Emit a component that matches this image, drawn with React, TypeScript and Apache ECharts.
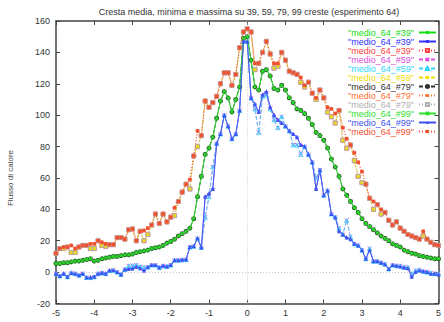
import React, { useEffect, useRef } from "react";
import * as echarts from "echarts";

const FONT = "'Liberation Sans', Arial, sans-serif";

const titleText = "Cresta media, minima e massima su 39, 59, 79, 99 creste (esperimento 64)";
const yLabelText = "Flusso di calore";

const xs = [
  -5, -4.9, -4.8, -4.7, -4.6, -4.5, -4.4, -4.3, -4.2, -4.1,
  -4, -3.9, -3.8, -3.7, -3.6, -3.5, -3.4, -3.3, -3.2, -3.1,
  -3, -2.9, -2.8, -2.7, -2.6, -2.5, -2.4, -2.3, -2.2, -2.1,
  -2, -1.9, -1.8, -1.7, -1.6, -1.5, -1.4, -1.3, -1.2, -1.1,
  -1, -0.9, -0.8, -0.7, -0.6, -0.5, -0.4, -0.3, -0.2, -0.1,
  0, 0.1, 0.2, 0.3, 0.4, 0.5, 0.6, 0.7, 0.8, 0.9,
  1, 1.1, 1.2, 1.3, 1.4, 1.5, 1.6, 1.7, 1.8, 1.9,
  2, 2.1, 2.2, 2.3, 2.4, 2.5, 2.6, 2.7, 2.8, 2.9,
  3, 3.1, 3.2, 3.3, 3.4, 3.5, 3.6, 3.7, 3.8, 3.9,
  4, 4.1, 4.2, 4.3, 4.4, 4.5, 4.6, 4.7, 4.8, 4.9,
  5,
];

// upper envelope (maximum) curves
const maxA = [
  12, 15, 16, 16, 17, 15, 16, 17, 17, 18,
  18, 20, 19, 18, 17.5, 17.5, 22, 22, 21, 27,
  27.5, 20, 26, 26.5, 28, 30, 37, 31, 37, 32,
  35, 41, 45, 51, 56, 59, 74, 90, 87, 109,
  105, 108, 112, 120, 127, 127, 119, 126, 143, 153,
  155, 153, 133, 133, 140, 147, 139, 133, 133, 140,
  135, 128, 127, 126, 124, 119, 121, 114, 111, 116,
  111, 105, 104, 101, 103, 92, 85, 81, 76, 70,
  64, 56, 47, 45, 43, 40, 38, 33, 30, 32,
  28, 26, 24, 23, 22, 21, 26, 21, 19, 17.5,
  17,
];
const maxB = [
  12, 15, 15, 16, 12.5, 12.5, 16, 17, 17, 15,
  15, 20, 17, 16.5, 17.5, 17.5, 22, 22, 21, 27,
  27.5, 20, 26, 20, 24, 30, 37, 31, 37, 32,
  35, 36, 45, 51, 56, 53, 74, 80, 87, 109,
  105, 108, 112, 120, 127, 127, 119, 126, 143, 153,
  155, 153, 129, 133, 140, 147, 139, 130, 131, 140,
  135, 128, 127, 126, 121, 118, 121, 114, 110, 116,
  111, 102, 99, 95, 103, 84, 79, 81, 71, 61,
  57, 56, 47, 40, 43, 37, 38, 33, 30, 32,
  28, 26, 24, 23, 22, 21, 23, 21, 19, 17.5,
  17,
];
// mean curve
const meanV = [
  5.5, 5.5, 6, 6, 6.5, 7, 7, 7.5, 8, 8.5,
  7, 7.5, 8.5, 9, 9.5, 10, 10, 10.5, 11, 11,
  11.5, 12.5, 13, 13.5, 14, 15, 15.5, 16, 17, 18.5,
  19.5, 21, 23, 24.5, 26, 28, 34, 48, 61, 75,
  79, 86, 98, 109, 115, 111, 102, 110, 118, 149,
  150, 135, 118, 116, 128, 129, 125, 117, 116, 119,
  116, 111, 108, 104, 103, 101, 98, 94, 89, 87,
  84, 79, 72, 67, 61, 53, 49, 45, 41, 38,
  34, 31, 29, 27, 25, 23, 21.5, 20, 18, 17,
  16, 14, 13, 12, 11.5, 10.5, 10, 9.5, 9, 8.5,
  8.5,
];
// lower envelope (minimum) curves
const minA = [
  -1, -2.5, -1, -3, -0.5, -1, -2, -1, -3.5, -3.5,
  -3, -1, -0.5, -1, 1, 1.2, 0, -1.5, 1.7, 2,
  2.3, 3.4, 2.5, 1, 3.2, 4.5, 4.5, 3, 4, 3.6,
  4.5, 7.6, 7.6, 7.8, 8, 16, 16.5, 21.5, 15.7, 48,
  50, 53, 82, 88, 100, 93, 85, 88, 103, 147,
  147, 111, 107, 102, 113, 115, 105, 100, 97, 95,
  93, 90, 88, 86, 81, 80, 75, 70, 53, 65,
  49, 52, 37, 35, 26, 24, 22, 21, 18, 17,
  14, 8.5, 14, 7, 7, 6, 5, 2, 4.5, 4,
  3.5, 3, 2.5, -3, 0, 1, 0.5, 0, -1, -1,
  -1.5,
];
const minB = [
  -1, -2.5, -1, -3, -0.5, -1, -2, -1, -3.5, -3.5,
  -3, -1, -0.5, -1, 1, 1.2, 0, -1.5, 1.7, 4,
  4.2, 4.5, 3.5, 3, 3.2, 4.5, 4.5, 3, 4, 3.6,
  4.5, 7.6, 7.6, 7.8, 8, 16, 16.5, 21.5, 15.7, 35,
  48, 67, 82, 88, 100, 93, 85, 88, 103, 147,
  147, 111, 104, 89, 112, 113, 104, 97, 92, 99,
  93, 90, 81, 81, 75, 80, 75, 70, 60, 65,
  49, 52, 37, 35, 28, 24, 33, 22.5, 18, 17,
  14, 8.5, 15, 7, 7, 6, 5, 2, 4.5, 4,
  4, 3, 3, -1, 1, 1.5, 0.5, 0, -0.5, -1,
  -1,
];

const legendLabels = [
  '"medio_64_#39"', '"medio_64_#39"', '"medio_64_#39"',
  '"medio_64_#59"', '"medio_64_#59"', '"medio_64_#59"',
  '"medio_64_#79"', '"medio_64_#79"', '"medio_64_#79"',
  '"medio_64_#99"', '"medio_64_#99"', '"medio_64_#99"',
];

const PLUS = "path://M0,5L10,5M5,0L5,10";
const CROSS = "path://M0,0L10,10M10,0L0,10";
const OSQUARE = "path://M0,0L10,0L10,10L0,10Z";
const OTRI = "path://M5,0L10,10L0,10Z";
const OCIRC = "path://M5,0A5,5 0 1,1 5,10A5,5 0 1,1 5,0Z";

const defs = [
  { data: meanV, color: "#10dd10", dash: "solid", symbol: "circle", size: 4, filled: true },
  { data: minA, color: "#3030ff", dash: "solid", symbol: PLUS, size: 4, filled: false },
  { data: maxB, color: "#ff4040", dash: [1, 2], symbol: OSQUARE, size: 4, filled: false },
  { data: minB, color: "#e050e0", dash: [4, 2], symbol: CROSS, size: 4, filled: false },
  { data: minB, color: "#30d8ff", dash: [4, 2], symbol: OTRI, size: 4, filled: false },
  { data: maxB, color: "#f0e000", dash: [4, 2], symbol: "rect", size: 3.5, filled: true },
  { data: meanV, color: "#303030", dash: [4, 2], symbol: OCIRC, size: 4, filled: false },
  { data: maxA, color: "#ff7030", dash: [1, 2], symbol: PLUS, size: 4, filled: false },
  { data: maxB, color: "#b0b0b0", dash: [1, 2], symbol: OSQUARE, size: 4, filled: false },
  { data: meanV, color: "#30e030", dash: "solid", symbol: CROSS, size: 4, filled: false },
  { data: minA, color: "#4050f0", dash: "solid", symbol: "triangle", size: 4, filled: true },
  { data: maxA, color: "#f05030", dash: [1, 2], symbol: "rect", size: 3.5, filled: true },
];

export default function App() {
  const ref = useRef<HTMLDivElement>(null);
  useEffect(() => {
    document.body.style.margin = "0";
    if (!ref.current) return;
    const chart = echarts.init(ref.current, undefined, { renderer: "svg" });
    const axisLine = { onZero: false, lineStyle: { color: "#444", width: 1.5 } };
    const axisTick = { inside: true, length: 4, lineStyle: { color: "#444", width: 1 } };
    const names = defs.map((_, i) => "s" + i);
    const series: any[] = defs.map((d, i) => ({
      type: "line",
      name: names[i],
      data: xs.map((x, k) => [x, d.data[k]]),
      symbol: d.symbol,
      symbolSize: d.size,
      showAllSymbol: true,
      lineStyle: { color: d.color, width: 0.8, type: d.dash },
      itemStyle: d.filled
        ? { color: d.color }
        : { color: "rgba(0,0,0,0)", borderColor: d.color, borderWidth: 0.9 },
      emphasis: { disabled: true },
      silent: true,
      z: 3 + i,
    }));
    series[0].markLine = {
      silent: true,
      symbol: "none",
      label: { show: false },
      lineStyle: { color: "#c8c8c8", type: [1, 2], width: 1 },
      data: [{ xAxis: 0 }, { yAxis: 0 }],
      animation: false,
    };
    chart.setOption({
      animation: false,
      backgroundColor: "#ffffff",
      textStyle: { fontFamily: FONT },
      grid: { left: 56, right: 0.5, top: 21, bottom: 18.5 },
      xAxis: [
        {
          type: "value", min: -5, max: 5, interval: 1, position: "bottom",
          axisLine, axisTick,
          axisLabel: { fontSize: 9, color: "#333", margin: 5, fontFamily: FONT },
          splitLine: { show: false },
        },
        {
          type: "value", min: -5, max: 5, interval: 1, position: "top",
          axisLine, axisTick, axisLabel: { show: false }, splitLine: { show: false },
        },
      ],
      yAxis: [
        {
          type: "value", min: -20, max: 160, interval: 20, position: "left",
          axisLine, axisTick,
          axisLabel: { fontSize: 9, color: "#333", margin: 6, fontFamily: FONT },
          splitLine: { show: false },
        },
        {
          type: "value", min: -20, max: 160, interval: 20, position: "right",
          axisLine, axisTick, axisLabel: { show: false }, splitLine: { show: false },
        },
      ],
      legend: {
        orient: "vertical",
        right: 7,
        top: 28,
        align: "right",
        itemWidth: 17,
        itemHeight: 4,
        itemGap: 0,
        padding: 0,
        selectedMode: false,
        data: names.map((n, i) => ({ name: n, textStyle: { color: defs[i].color } })),
        formatter: (n: string) => legendLabels[names.indexOf(n)],
        textStyle: { fontSize: 9, lineHeight: 9, fontFamily: FONT, padding: [0, 0, 0, 0] },
      },
      graphic: [
        {
          type: "text", x: 249, y: 12,
          style: { text: titleText, fontSize: 9, fill: "#333", fontFamily: FONT, textAlign: "center", textVerticalAlign: "middle" },
        },
        {
          type: "text", x: 10, y: 178, rotation: Math.PI / 2,
          style: { text: yLabelText, fontSize: 8, fill: "#444", fontFamily: FONT, textAlign: "center", textVerticalAlign: "middle" },
        },
      ],
      series,
    });
    return () => chart.dispose();
  }, []);
  return <div ref={ref} style={{ width: 444, height: 322 }} />;
}
